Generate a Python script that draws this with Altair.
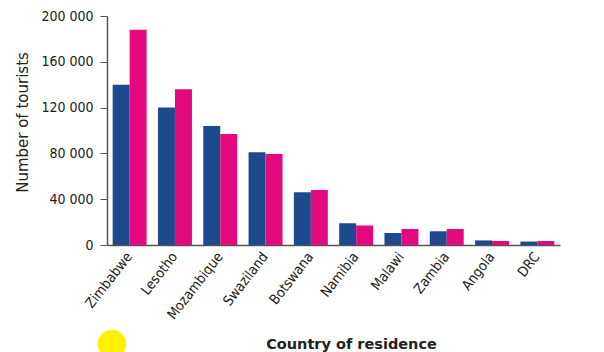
import altair as alt
import pandas as pd

countries = ["Zimbabwe", "Lesotho", "Mozambique", "Swaziland", "Botswana",
             "Namibia", "Malawi", "Zambia", "Angola", "DRC"]
series_names = ["Series A", "Series B"]
series_a = [140000, 120000, 104000, 81000, 46000, 19000, 10500, 12000, 4000, 3000]
series_b = [188000, 136000, 97000, 79500, 48000, 17000, 14000, 14000, 3500, 3500]
y_ticks = [0, 40000, 80000, 120000, 160000, 200000]
colors = ["#1d4a8e", "#e5097f"]

rows = []
for i, c in enumerate(countries):
    rows.append({"country": c, "series": series_names[0], "value": series_a[i]})
    rows.append({"country": c, "series": series_names[1], "value": series_b[i]})
df = pd.DataFrame(rows)

label_font = "DejaVu Sans Condensed"

bars = alt.Chart(df).mark_bar().encode(
    x=alt.X("country:N", sort=countries,
            scale=alt.Scale(paddingInner=0.25, paddingOuter=0.125),
            axis=alt.Axis(title="Country of residence", labelAngle=-52,
                          labelAlign="right", labelBaseline="middle",
                          labelPadding=9, ticks=False, domainColor="#555555",
                          domainWidth=1.5,
                          labelFont=label_font, labelFontSize=14, labelColor="#1a1a1a",
                          titleFont="DejaVu Sans", titleFontSize=14.5, titleFontWeight=600,
                          titleColor="#222222", titleX=244, titleY=103,
                          titleBaseline="alphabetic", titleAlign="center")),
    xOffset=alt.XOffset("series:N", sort=series_names),
    y=alt.Y("value:Q", scale=alt.Scale(domain=[0, 200000], nice=False),
            axis=alt.Axis(title="Number of tourists", values=y_ticks,
                          labelExpr="replace(format(datum.value, ','), ',', ' ')",
                          grid=False, tickSize=7, tickColor="#555555",
                          domainColor="#555555", domainWidth=1.5, labelPadding=7,
                          labelFont=label_font, labelFontSize=14, labelColor="#1a1a1a",
                          titleFont="DejaVu Sans", titleFontSize=15, titleFontWeight=400,
                          titleColor="#222222", titleX=-80, titleY=106,
                          titleBaseline="alphabetic", titleAlign="center")),
    color=alt.Color("series:N", sort=series_names,
                    scale=alt.Scale(domain=series_names, range=colors), legend=None),
)

dot = alt.Chart(pd.DataFrame({"d": [1]})).mark_circle(
    color="#fff200", opacity=1, size=820
).encode(x=alt.value(5), y=alt.value(328), detail="d:N")

chart = alt.layer(bars, dot).properties(
    width=453, height=229,
    background="white",
    autosize=alt.AutoSizeParams(type="none"),
    padding={"left": 107, "top": 16, "right": 44, "bottom": 107},
).configure_view(stroke=None)

chart.save("out.html", embed_options={"renderer": "svg", "actions": False})
